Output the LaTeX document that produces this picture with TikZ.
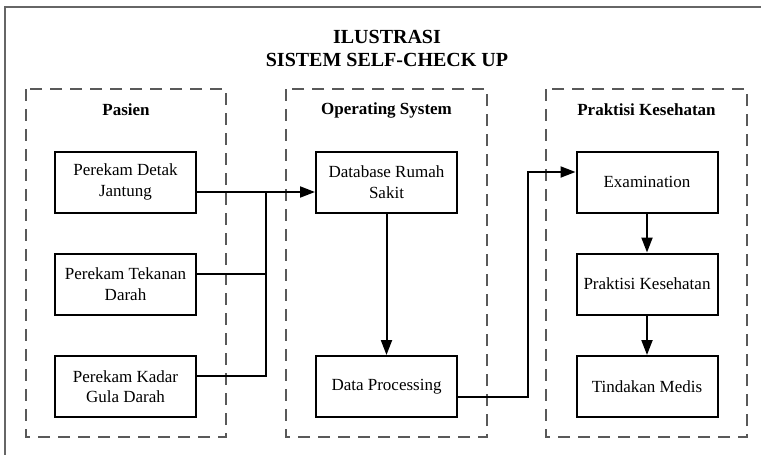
\documentclass[tikz,border=0pt]{standalone}
\usepackage{fontspec}
\setmainfont{Liberation Serif}
\usetikzlibrary{arrows.meta}
\begin{document}
\begin{tikzpicture}[x=1pt,y=-1pt,
  lane/.style={draw=black!65, line width=1.3pt, dash pattern=on 12pt off 8pt},
  box/.style={draw=black, line width=2pt, minimum width=141pt, minimum height=61pt, align=center, inner sep=2pt, font=\fontsize{17}{20.5}\selectfont},
  head/.style={font=\bfseries\fontsize{17}{20}\selectfont},
  conn/.style={draw=black, line width=2pt},
  arr/.style={conn, -{Triangle[length=15pt,width=11pt]}}]
\useasboundingbox (0,0) rectangle (761,455);
\draw[black!60, line width=1.5pt] (761,7) -- (5,7) -- (5,455);
\node[font=\bfseries\fontsize{20}{23}\selectfont, align=center] (title) at (387,48) {ILUSTRASI\\SISTEM SELF-CHECK UP};
\draw[lane] (26,89) rectangle (226,437);
\draw[lane] (286,89) rectangle (487,437);
\draw[lane] (546,89) rectangle (747,437);
\node[head] (h1) at (126,110) {Pasien};
\node[head] (h2) at (386.5,110) {Operating System};
\node[head] (h3) at (646.5,110) {Praktisi Kesehatan};
\node[box] (pdj) at (125.5,182) {Perekam Detak\\Jantung};
\node[box] (ptd) at (125.5,284) {Perekam Tekanan\\Darah};
\node[box] (pkg) at (125.5,386.5) {Perekam Kadar\\Gula Darah};
\node[box] (db) at (386.5,182) {Database Rumah\\Sakit};
\node[box] (dp) at (386.5,386.5) {Data Processing};
\node[box] (ex) at (647,182) {Examination};
\node[box] (pk) at (647,284) {Praktisi Kesehatan};
\node[box] (tm) at (647,386.5) {Tindakan Medis};
\coordinate (j) at (266,192);
\draw[arr] ([yshift=-10pt]pdj.east) -- ([yshift=-10pt]db.west);
\draw[conn] ([yshift=10pt]ptd.east) -| (j);
\draw[conn] ([yshift=10.5pt]pkg.east) -| (j);
\draw[arr] (db.south) -- (dp.north);
\draw[arr] ([yshift=-10.5pt]dp.east) -- ++(70,0) |- ([yshift=10pt]ex.west);
\draw[arr] (ex.south) -- (pk.north);
\draw[arr] (pk.south) -- (tm.north);
\end{tikzpicture}
\end{document}
